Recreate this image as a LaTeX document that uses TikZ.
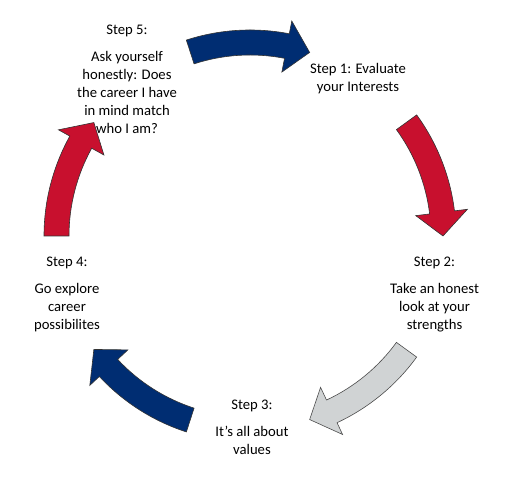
\documentclass[tikz,border=0pt]{standalone}
\usepackage{fontspec}
\setmainfont{Carlito}
\definecolor{cycleblue}{HTML}{002D72}
\definecolor{cyclered}{HTML}{C8102E}
\definecolor{cyclegray}{HTML}{D0D3D4}

\begin{document}
\begin{tikzpicture}[x=1pt, y=1pt, font=\fontsize{14.67}{18}\selectfont]
    % Styles
    \tikzstyle{step text}=[align=center, inner sep=0pt]
    \tikzstyle{blue arrow}=[fill=cycleblue, draw=black!80, line width=0.6pt, line join=miter]
    \tikzstyle{red arrow}=[fill=cyclered, draw=black!80, line width=0.6pt, line join=miter]
    \tikzstyle{gray arrow}=[fill=cyclegray, draw=black!70, line width=0.6pt, line join=miter]

    \useasboundingbox (0,0) rectangle (511,494);

    % --- Step texts ---
    \node[step text] (step5) at (127,415) {Step 5:\\[9pt] Ask yourself\\ honestly: Does\\ the career I have\\ in mind match\\ who I am?};
    \node[step text] (step1) at (358,415) {Step 1: Evaluate\\ your Interests};
    \node[step text] (step2) at (434.5,199.5) {Step 2:\\[9pt] Take an honest\\ look at your\\ strengths};
    \node[step text] (step3) at (252,67) {Step 3:\\[9pt] It's all about\\ values};
    \node[step text] (step4) at (67,199.5) {Step 4:\\[9pt] Go explore\\ career\\ possibilites};

    % --- Curved arrows round the centre ---
    \begin{scope}[shift={(250,258)}]
        % Step 5 -> Step 1 (top)
        \draw[blue arrow] (108:206) arc[start angle=108, end angle=79, radius=206]
            -- (79:219) -- (72:193) -- (79:167) -- (79:181)
            arc[start angle=79, end angle=108, radius=181] -- cycle;

        % Step 1 -> Step 2 (right)
        \draw[red arrow] (36:206) arc[start angle=36, end angle=7, radius=206]
            -- (7:219) -- (0:193) -- (7:167) -- (7:181)
            arc[start angle=7, end angle=36, radius=181] -- cycle;

        % Step 2 -> Step 3 (bottom right)
        \draw[gray arrow] (-36:206) arc[start angle=-36, end angle=-65, radius=206]
            -- (-65:219) -- (-72:193) -- (-65:167) -- (-65:181)
            arc[start angle=-65, end angle=-36, radius=181] -- cycle;

        % Step 3 -> Step 4 (bottom left)
        \draw[blue arrow] (-108:206) arc[start angle=-108, end angle=-137, radius=206]
            -- (-137:219) -- (-144:193) -- (-137:167) -- (-137:181)
            arc[start angle=-137, end angle=-108, radius=181] -- cycle;

        % Step 4 -> Step 5 (left)
        \draw[red arrow] (180:206) arc[start angle=180, end angle=151, radius=206]
            -- (151:219) -- (144:193) -- (151:167) -- (151:181)
            arc[start angle=151, end angle=180, radius=181] -- cycle;
    \end{scope}
\end{tikzpicture}
\end{document}
